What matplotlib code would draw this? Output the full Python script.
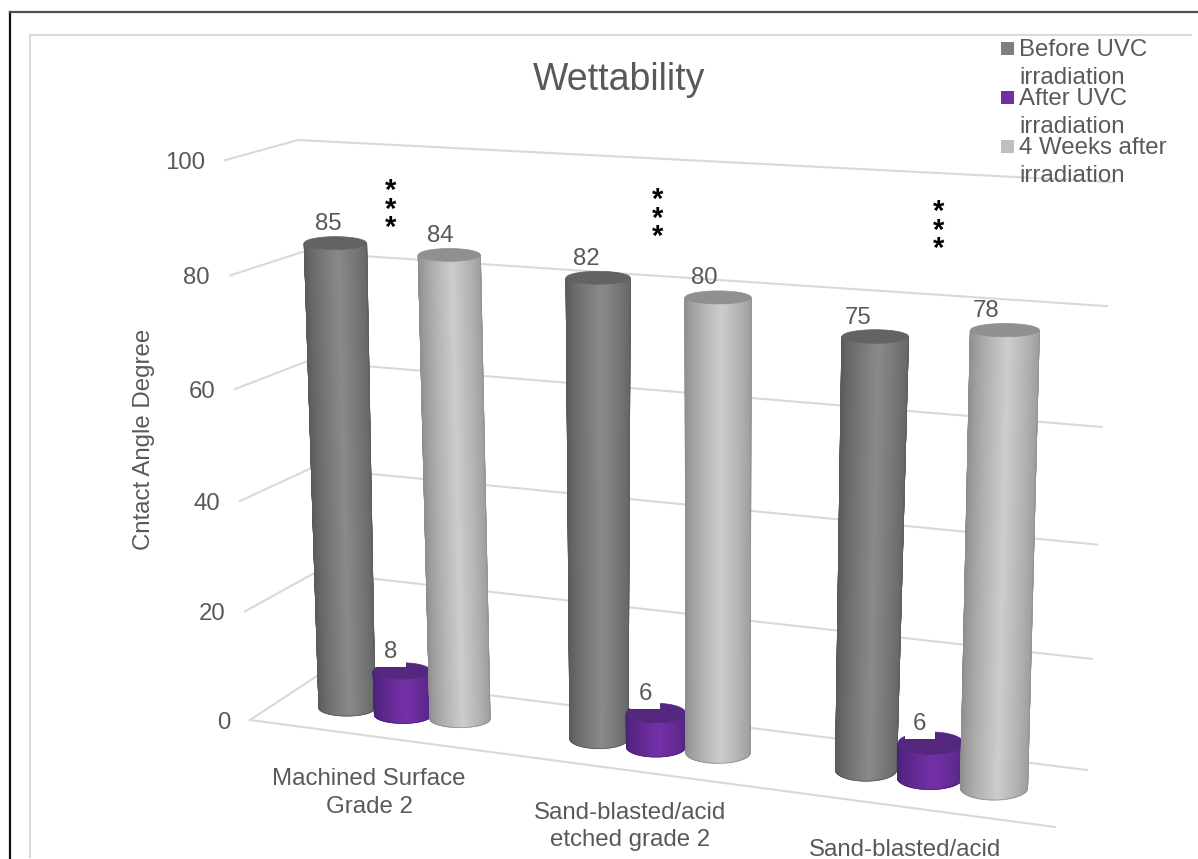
import numpy as np
import matplotlib
matplotlib.use("Agg")
import matplotlib.pyplot as plt
from matplotlib.colors import LinearSegmentedColormap
from matplotlib.patches import Polygon, Rectangle

# ---- chart values ----
categories = ["Machined Surface\nGrade 2", "Sand-blasted/acid\netched grade 2", "Sand-blasted/acid"]
series_names = ["Before UVC\nirradiation", "After UVC\nirradiation", "4 Weeks after\nirradiation"]
before_uvc = [85, 82, 75]
after_uvc = [8, 6, 6]
four_weeks = [84, 80, 78]
y_ticks = [0, 20, 40, 60, 80, 100]
y_label = "Cntact Angle Degree"
chart_title = "Wettability"

# ---- styling ----
plt.rcParams["font.family"] = ["Liberation Sans", "DejaVu Sans"]
TEXT = "#595959"
GRID = "#d9d9d9"
FS = 17.3

# (edge shade, centre shade, cap shade, legend swatch) per series
SHADES = [("#5a5a5a", "#8a8a8a", "#636363", "#7f7f7f"),
          ("#4c2278", "#7531a8", "#55287f", "#7030a0"),
          ("#8e8e8e", "#cdcdcd", "#909090", "#bfbfbf")]

# Floor position and radius of each cylinder, [category][series]
FLOOR_X = [[347, 403, 460], [599, 656, 718], [866, 930, 994]]
FLOOR_Y = [[708, 715, 719], [739, 747, 753], [770, 778, 788]]
FLOOR_R = [[28, 28.5, 30], [29, 29.5, 32], [30.5, 32.5, 33.5]]
FLARE = [0.037, 0.03, 0.012]
# horizontal position of the vertical vanishing line, per depth row
VANISH_X = [620, 660, 715]


def level(x0, y0, v, s):
    """Screen position of value v above the floor point (x0, y0) in depth row s."""
    k = 5.47 + 0.005 * (y0 - 708)
    return x0 + (x0 - VANISH_X[s]) * 5e-4 * v, y0 - k * v


def cap_height(y0, v):
    bottom = 8 + 0.05 * (y0 - 708)
    return bottom - (bottom - 6.5) * v / 80


def wall_left(v):
    return 250 - 0.25 * v, 720 - 5.39 * v - 0.00208 * v * v


def wall_back(v):
    return 320 - 0.22 * v, 674 - 5.02 * v - 0.0032 * v * v


def wall_right(v):
    return 1087 + 0.25 * v, 770 - 5.472 * v - 0.00408 * v * v


def cylinder(ax, x0, y0, r0, v, s, z):
    edge, centre, cap, _ = SHADES[s]
    xt, yt = level(x0, y0, v, s)
    rt = r0 + FLARE[s] * v
    rb_y, rt_y = cap_height(y0, 0), cap_height(y0, v)
    theta = np.linspace(np.pi, 0, 81)
    xs = np.vstack([x0 + r0 * np.cos(theta), xt + rt * np.cos(theta)])
    ys = np.vstack([y0 + rb_y * np.sin(theta), yt + rt_y * np.sin(theta)])
    # horizontal lighting: darkest at the rims, brightest just right of centre
    t = 0.5 * (np.cos(theta) + 1)
    w = np.clip(1 - np.abs(t - 0.55) / 0.55, 0, 1) ** 0.75
    cmap = LinearSegmentedColormap.from_list("shade", [edge, centre])
    ax.pcolormesh(xs, ys, np.vstack([w, w]), cmap=cmap, vmin=0, vmax=1,
                  shading="gouraud", zorder=z)
    # soften the jagged mesh outline with a thin rim
    ax.plot(np.r_[xs[1, 0], xs[0], xs[1, -1]], np.r_[ys[1, 0], ys[0], ys[1, -1]],
            color=edge, lw=0.5, zorder=z)
    full = np.linspace(0, 2 * np.pi, 120)
    ax.add_patch(Polygon(np.c_[xt + rt * np.cos(full), yt + rt_y * np.sin(full)],
                         closed=True, facecolor=cap, edgecolor=cap, linewidth=0.5, zorder=z))
    return xt, yt


fig = plt.figure(figsize=(11.98, 8.59), dpi=100, facecolor="white")
ax = fig.add_axes([0, 0, 1, 1])
ax.set_xlim(0, 1198)
ax.set_ylim(859, 0)
ax.axis("off")

# page and chart frames
ax.plot([10, 10], [859, 12], color="#111111", lw=1.6)
ax.plot([1198, 10], [12, 12], color="#505050", lw=1.6)
ax.plot([30, 30, 1191], [857, 35, 35], color=GRID, lw=1.5, solid_joinstyle="miter")

# walls and floor of the 3D box
for v in y_ticks:
    pts = [wall_left(v), wall_back(v), wall_right(v)]
    ax.plot(*zip(*pts), color=GRID, lw=1.5, solid_joinstyle="miter", zorder=2)
    lx, ly = wall_left(v)
    ax.text(lx - 20, ly + 3, str(v), ha="right", va="center", fontsize=FS, color=TEXT)
ax.plot([wall_left(0)[0], 1055], [wall_left(0)[1], 827], color=GRID, lw=1.5, zorder=2)

# cylinders, series by series inside each group
all_series = [before_uvc, after_uvc, four_weeks]
tops = []
z = 3.0
for c in range(len(categories)):
    for s, values in enumerate(all_series):
        xt, yt = cylinder(ax, FLOOR_X[c][s], FLOOR_Y[c][s], FLOOR_R[c][s], values[c], s, z)
        z += 0.01
        tops.append((xt, yt, values[c], s))

# value labels; the short bars carry a white label box
for xt, yt, v, s in tops:
    if s == 1:
        lx, ly = xt - 11, yt - 21
        ax.add_patch(Rectangle((lx - 15, ly - 19), 30, 36, facecolor="white", edgecolor="none", zorder=5))
    else:
        lx, ly = xt - 7 - (xt - 336) * 0.018, yt - 21
    ax.text(lx, ly + 2, str(v), ha="center", va="center", fontsize=FS, color=TEXT, zorder=6)

# significance markers above each group
for sx, sy in [(391, 186), (658, 195), (939, 207)]:
    ax.text(sx, sy - 9, "*\n*\n*", ha="center", va="top", fontsize=21, fontweight="bold",
            color="black", linespacing=0.57, zorder=6)

# category labels
for (cx, cy), lab in zip([(369, 793), (630, 826.5), (905, 850)], categories):
    ax.text(cx, cy, lab, ha="center", va="center", fontsize=FS, color=TEXT, linespacing=1.3)

ax.text(144, 439, y_label, rotation=90, ha="center", va="center", fontsize=FS, color=TEXT)
ax.text(619.5, 80, chart_title, ha="center", va="center", fontsize=27, color=TEXT)

# legend, entries tightly stacked
for (name, shade, sy) in zip(series_names, SHADES, [42, 91, 140]):
    ax.add_patch(Rectangle((1001, sy), 13, 13, facecolor=shade[3], edgecolor="none", zorder=7))
    first, second = name.split("\n")
    ax.text(1019, sy + 8, first, ha="left", va="center", fontsize=FS, color=TEXT, zorder=7)
    ax.text(1019, sy + 36, second, ha="left", va="center", fontsize=FS, color=TEXT, zorder=7)

fig.savefig("out.png", dpi=100)
